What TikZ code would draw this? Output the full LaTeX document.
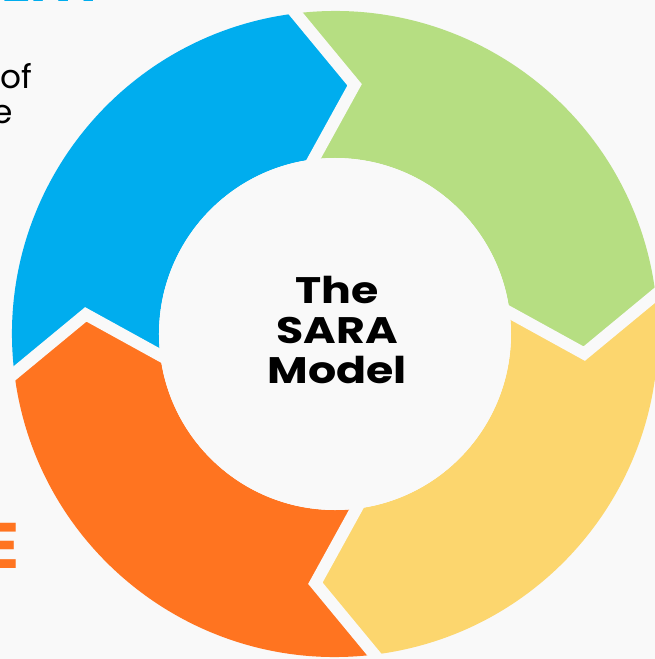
\documentclass[tikz,border=0pt]{standalone}
\usepackage{fontspec}
\setmainfont{Poppins}
\newfontfamily\widefont{Poppins}[FakeStretch=1.2]
\usetikzlibrary{calc,positioning}
\definecolor{paper}{RGB}{249,249,249}
\definecolor{sarablue}{RGB}{0,173,238}
\definecolor{saragreen}{RGB}{182,222,130}
\definecolor{sarayellow}{RGB}{252,214,110}
\definecolor{saraorange}{RGB}{255,116,32}

\begin{document}
\begin{tikzpicture}[x=0.03cm,y=0.03cm]

\tikzset{gapline/.style={draw=paper,line width=0.36cm,line join=miter,shorten <=-0.6cm,shorten >=-0.6cm},
hub/.style={shape=circle,fill=paper,inner sep=0pt,minimum size=10.56cm},
hubtext/.style={align=center,inner sep=0pt,font=\widefont\bfseries\fontsize{31.5}{34.5}\selectfont},
sidetext/.style={anchor=base east,inner sep=0pt,font=\fontsize{28}{30}\selectfont}}

% Page
\useasboundingbox[fill=paper] (-335,-325) rectangle (320,334);
\clip (-335,-325) rectangle (320,334);

% Cut-off words at the left
\node[sidetext,text=sarablue,font=\bfseries\fontsize{47}{50}\selectfont] (topword) at (-230,333) {ENT};
\node[sidetext] (ofword) at (-302,246) {of};
\node[sidetext] (eword) at (-322,211) {e};
\node[sidetext,text=saraorange,font=\bfseries\fontsize{55}{60}\selectfont] (bigE) at (-315,-234) {E};

% Ring parts, clockwise
\foreach \a/\col in {187/sarablue, 97/saragreen, 7/sarayellow, -83/saraorange} {
  \pgfmathsetmacro\b{\a-90}
  \fill[\col] (\a:323) arc[start angle=\a, end angle=\b, radius=323] -- (\b-11.5:250) -- (\b:176)
    arc[start angle=\b, end angle=\a, radius=176] -- (\a-11.5:250) -- cycle;
}

% Gaps
\foreach \a in {187, 97, 7, -83} \draw[gapline] (\a:323) -- (\a-11.5:250) -- (\a:176);

% Hub
\node[hub] (model) at (0,0) {};
\node[hubtext] (modeltext) at (2,4) {The\\SARA\\Model};

\end{tikzpicture}
\end{document}
